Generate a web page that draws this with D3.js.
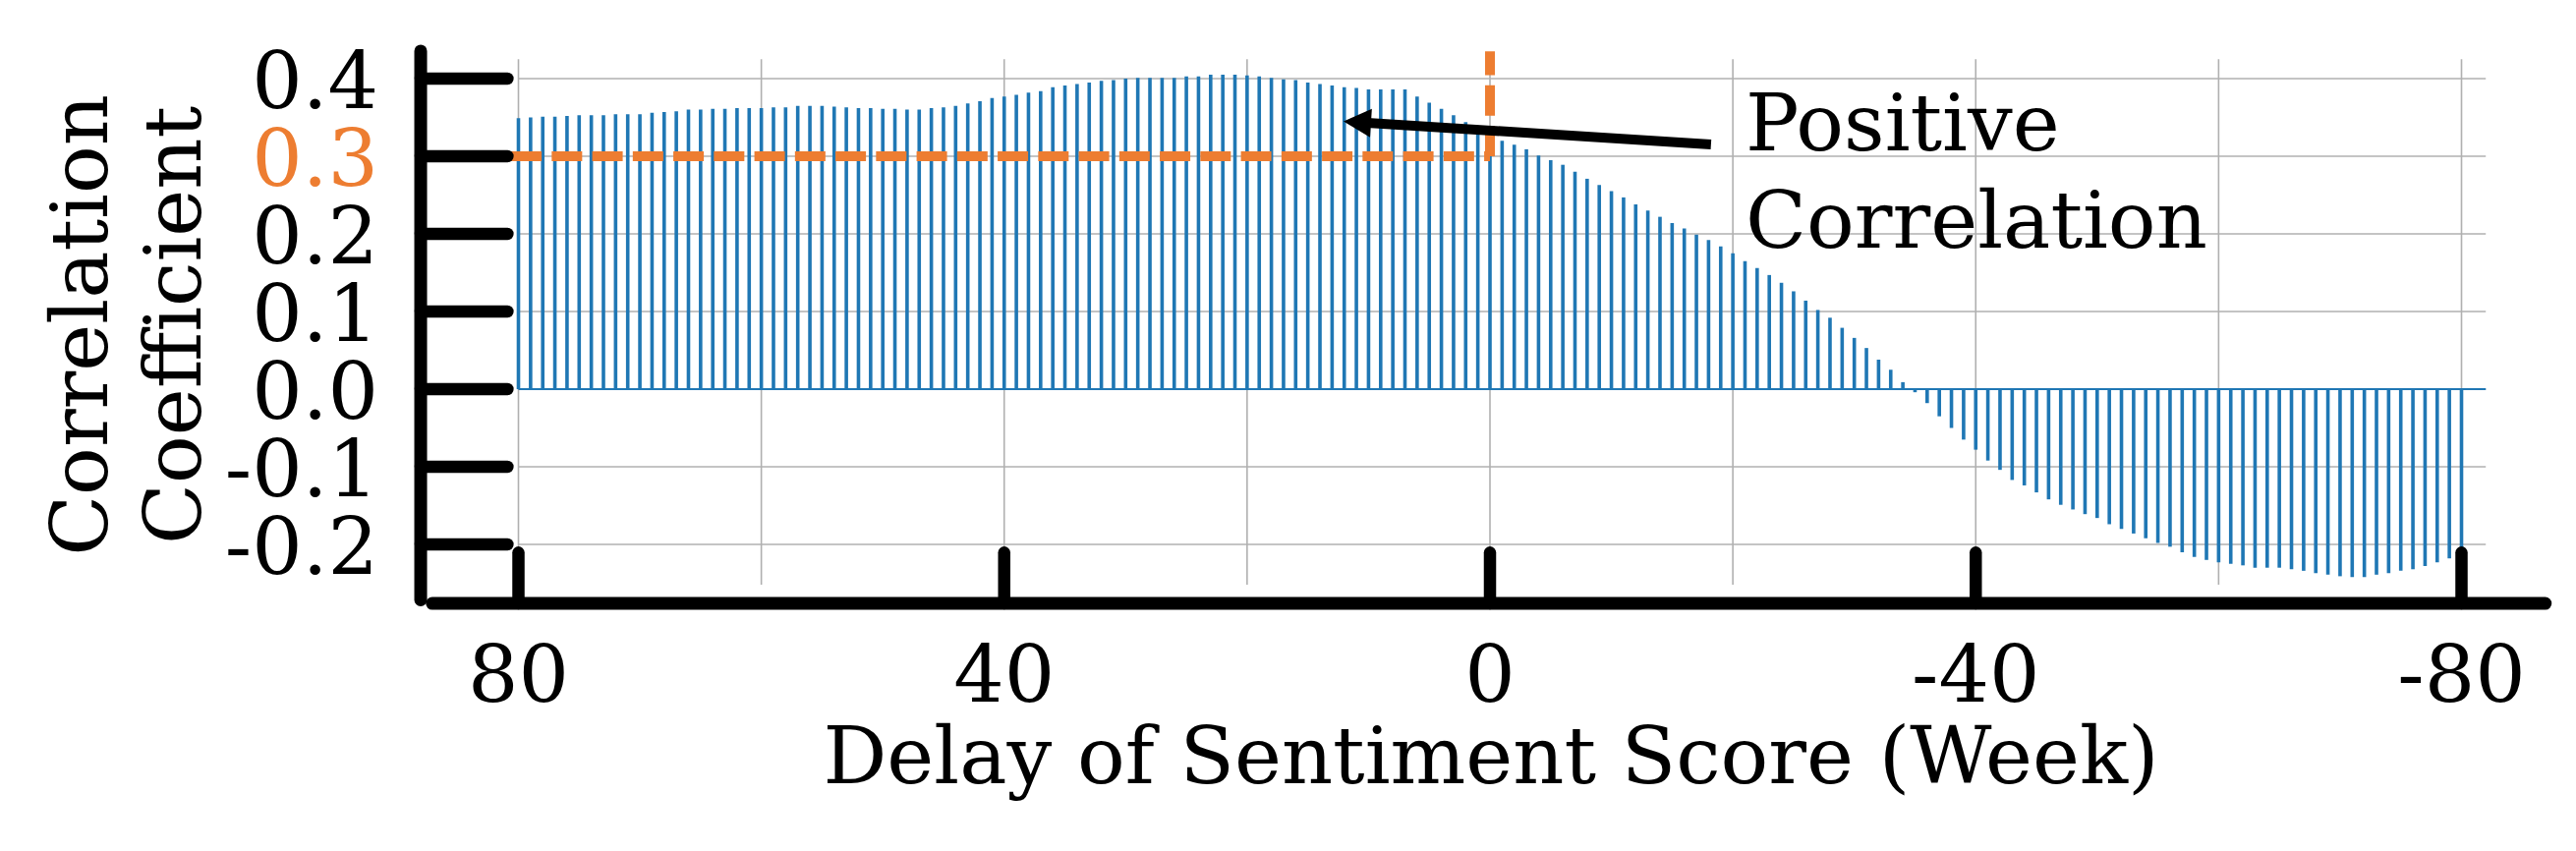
<!DOCTYPE html>
<html>
<head>
<meta charset="utf-8">
<script src="https://cdn.jsdelivr.net/npm/d3@7"></script>
<style>
    html, body { margin: 0; padding: 0; background: #fff; }
    svg { display: block; }
    text { font-family: "DejaVu Serif", serif; fill: #000; }
</style>
</head>
<body>
<div id="chart"></div>
<script>
// delay in weeks, one stem per week (80 ... -80)
const lags = d3.range(80, -81, -1);

// correlation coefficient for each delay
const correlation = [
    0.349, 0.350, 0.351, 0.351, 0.352, 0.353, 0.353, 0.353, 0.354, 0.354,   // 80 .. 71
    0.354, 0.356, 0.357, 0.358, 0.360, 0.360, 0.361, 0.361, 0.362, 0.362,   // 70 .. 61
    0.362, 0.363, 0.363, 0.365, 0.365, 0.365, 0.364, 0.363, 0.362, 0.362,   // 60 .. 51
    0.361, 0.361, 0.360, 0.360, 0.362, 0.363, 0.365, 0.368, 0.371, 0.375,   // 50 .. 41
    0.377, 0.379, 0.382, 0.384, 0.389, 0.391, 0.393, 0.395, 0.397, 0.398,   // 40 .. 31
    0.400, 0.401, 0.401, 0.401, 0.401, 0.403, 0.403, 0.405, 0.405, 0.405,   // 30 .. 21
    0.404, 0.403, 0.401, 0.399, 0.398, 0.395, 0.393, 0.391, 0.389, 0.388,   // 20 .. 11
    0.386, 0.386, 0.386, 0.386, 0.377, 0.369, 0.361, 0.353, 0.344, 0.335,   // 10 .. 1
    0.327,                                                                  // 0
    0.320, 0.315, 0.309, 0.301, 0.295, 0.289, 0.280, 0.271, 0.263, 0.255,   // -1 .. -10
    0.247, 0.238, 0.230, 0.222, 0.214, 0.207, 0.199, 0.192, 0.184, 0.175,   // -11 .. -20
    0.165, 0.156, 0.147, 0.137, 0.126, 0.114, 0.102, 0.092, 0.079, 0.066,   // -21 .. -30
    0.053, 0.038, 0.025, 0.009, -0.004, -0.018, -0.035, -0.050, -0.065, -0.078, // -31 .. -40
    -0.092, -0.104, -0.117, -0.124, -0.133, -0.142, -0.149, -0.155, -0.161, -0.166, // -41 .. -50
    -0.174, -0.180, -0.186, -0.192, -0.198, -0.203, -0.210, -0.216, -0.220, -0.223, // -51 .. -60
    -0.225, -0.227, -0.230, -0.230, -0.230, -0.232, -0.234, -0.237, -0.239, -0.241, // -61 .. -70
    -0.242, -0.242, -0.239, -0.237, -0.234, -0.232, -0.228, -0.223, -0.218, -0.212  // -71 .. -80
];

const yTicks = [0.4, 0.3, 0.2, 0.1, 0.0, -0.1, -0.2];
const yTickLabels = ["0.4", "0.3", "0.2", "0.1", "0.0", "-0.1", "-0.2"];
const xTicks = [80, 40, 0, -40, -80];
const xTickLabels = ["80", "40", "0", "-40", "-80"];
const xGrid = [80, 60, 40, 20, 0, -20, -40, -60, -80];

const highlightValue = 0.3;
const highlightLag = 0;
const annotationLines = ["Positive", "Correlation"];

// styling
const width = 2621, height = 866;
const fontSize = 81;
const blue = "#1f77b4";
const orange = "#ed7d31";
const spineWidth = 13;

const svg = d3.select("#chart").append("svg")
    .attr("width", width)
    .attr("height", height);

svg.append("rect").attr("width", width).attr("height", height).attr("fill", "#fff");

const x = d3.scaleLinear().domain([80, -80]).range([527.5, 2504.5]);
const y = d3.scaleLinear().domain([-0.2, 0.4]).range([554, 80]);

// plot area (grid extent) in data units
const areaX = [80, -82];
const areaY = [-0.252, 0.425];

// GRID

const grid = svg.append("g")
    .attr("stroke", "#b0b0b0")
    .attr("stroke-width", 1.6);

grid.selectAll(".vgrid")
    .data(xGrid)
    .join("line")
    .attr("class", "vgrid")
    .attr("x1", d => x(d)).attr("x2", d => x(d))
    .attr("y1", y(areaY[1])).attr("y2", y(areaY[0]));

grid.selectAll(".hgrid")
    .data(yTicks)
    .join("line")
    .attr("class", "hgrid")
    .attr("x1", x(areaX[0])).attr("x2", x(areaX[1]))
    .attr("y1", d => y(d)).attr("y2", d => y(d));

// STEMS

svg.append("g")
    .selectAll("line")
    .data(lags)
    .join("line")
    .attr("x1", d => x(d)).attr("x2", d => x(d))
    .attr("y1", y(0))
    .attr("y2", (d, i) => y(correlation[i]))
    .attr("stroke", blue)
    .attr("stroke-width", 3.6);

svg.append("line")
    .attr("x1", x(areaX[0])).attr("x2", x(areaX[1]))
    .attr("y1", y(0)).attr("y2", y(0))
    .attr("stroke", blue)
    .attr("stroke-width", 2);

// HIGHLIGHT (0.3 at zero delay)

const dash = "31,10.25";

svg.append("line")
    .attr("x1", x(80.6)).attr("x2", x(highlightLag))
    .attr("y1", y(highlightValue)).attr("y2", y(highlightValue))
    .attr("stroke", orange)
    .attr("stroke-width", 10)
    .attr("stroke-dasharray", dash);

svg.append("line")
    .attr("x1", x(highlightLag)).attr("x2", x(highlightLag))
    .attr("y1", y(highlightValue)).attr("y2", y(0.435))
    .attr("stroke", orange)
    .attr("stroke-width", 10)
    .attr("stroke-dasharray", dash);

// AXES (drawn by hand: thick rounded spines and ticks)

const spineLag = 88.05, spineVal = -0.276;
const axes = svg.append("g")
    .attr("stroke", "#000")
    .attr("stroke-linecap", "round");

axes.append("line")
    .attr("x1", x(spineLag)).attr("x2", x(spineLag))
    .attr("y1", y(0.4355)).attr("y2", y(-0.2715))
    .attr("stroke-width", spineWidth);

axes.append("line")
    .attr("x1", x(87.1)).attr("x2", x(-86.9))
    .attr("y1", y(spineVal)).attr("y2", y(spineVal))
    .attr("stroke-width", spineWidth);

axes.selectAll(".ytick")
    .data(yTicks)
    .join("line")
    .attr("class", "ytick")
    .attr("x1", x(spineLag)).attr("x2", x(80.9))
    .attr("y1", d => y(d)).attr("y2", d => y(d))
    .attr("stroke-width", 12.5);

axes.selectAll(".xtick")
    .data(xTicks)
    .join("line")
    .attr("class", "xtick")
    .attr("x1", d => x(d)).attr("x2", d => x(d))
    .attr("y1", y(spineVal)).attr("y2", y(-0.2105))
    .attr("stroke-width", 12.5);

// tick labels
svg.selectAll(".ylabel")
    .data(yTicks)
    .join("text")
    .attr("class", "ylabel")
    .attr("x", 385)
    .attr("y", d => y(d) + 29.5)
    .attr("text-anchor", "end")
    .style("font-size", fontSize + "px")
    .style("fill", d => d === highlightValue ? orange : "#000")
    .text((d, i) => yTickLabels[i]);

svg.selectAll(".xlabel")
    .data(xTicks)
    .join("text")
    .attr("class", "xlabel")
    .attr("x", d => x(d))
    .attr("y", 714)
    .attr("text-anchor", "middle")
    .style("font-size", fontSize + "px")
    .text((d, i) => xTickLabels[i]);

// axis titles
svg.append("text")
    .attr("x", 1517)
    .attr("y", 797)
    .attr("text-anchor", "middle")
    .style("font-size", fontSize + "px")
    .text("Delay of Sentiment Score (Week)");

const yTitle = svg.append("text")
    .attr("transform", "translate(109 331) rotate(-90)")
    .attr("text-anchor", "middle")
    .style("font-size", fontSize + "px");
yTitle.append("tspan").attr("x", 0).attr("y", 0).text("Correlation");
yTitle.append("tspan").attr("x", 0).attr("y", 95).text("Coefficient");

// ANNOTATION

const tip = [x(12.06), y(0.345)];
const tail = [x(-18.2), y(0.3152)];
const shaftHalf = 5, headHalf = 14.5, headLen = 28;

const dx = tail[0] - tip[0], dy = tail[1] - tip[1];
const len = Math.hypot(dx, dy);
const ux = dx / len, uy = dy / len;   // tip -> tail
const nx = -uy, ny = ux;
const base = [tip[0] + ux * headLen, tip[1] + uy * headLen];

const arrowPts = [
    tip,
    [base[0] + nx * headHalf, base[1] + ny * headHalf],
    [base[0] + nx * shaftHalf, base[1] + ny * shaftHalf],
    [tail[0] + nx * shaftHalf, tail[1] + ny * shaftHalf],
    [tail[0] - nx * shaftHalf, tail[1] - ny * shaftHalf],
    [base[0] - nx * shaftHalf, base[1] - ny * shaftHalf],
    [base[0] - nx * headHalf, base[1] - ny * headHalf]
];

svg.append("polygon")
    .attr("points", arrowPts.map(p => p.join(",")).join(" "))
    .attr("fill", "#000");

svg.append("g")
    .selectAll("text")
    .data(annotationLines)
    .join("text")
    .attr("x", x(-21.05))
    .attr("y", (d, i) => y(0.3076) + i * 99)
    .style("font-size", fontSize + "px")
    .text(d => d);
</script>
</body>
</html>
